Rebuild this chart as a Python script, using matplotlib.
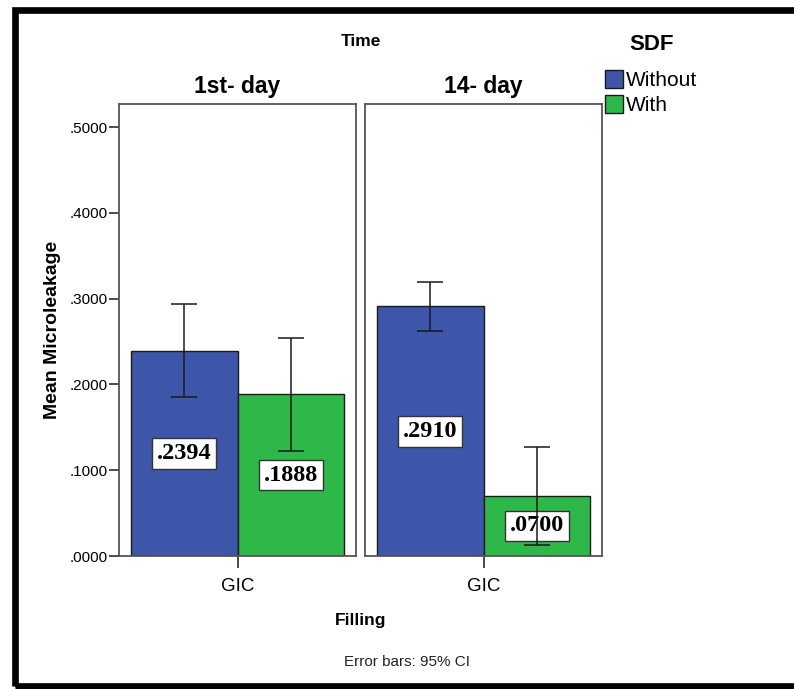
import numpy as np
import matplotlib
matplotlib.use('Agg')
import matplotlib.pyplot as plt
from matplotlib.patches import Rectangle

plt.rcParams['font.family'] = ['Liberation Sans', 'DejaVu Sans']

# data
days = ['1st- day', '14- day']
groups = ['Without', 'With']
filling = ['GIC']
mean_without = [0.2394, 0.2910]
mean_with = [0.1888, 0.0700]
ci_without_low = [0.185, 0.262]
ci_without_high = [0.294, 0.319]
ci_with_low = [0.122, 0.013]
ci_with_high = [0.254, 0.127]
value_labels_without = ['.2394', '.2910']
value_labels_with = ['.1888', '.0700']
yticks = [0, 0.1, 0.2, 0.3, 0.4, 0.5]
ytick_labels = ['.0000', '.1000', '.2000', '.3000', '.4000', '.5000']

blue = '#3d56aa'
green = '#2fb84a'
frame = '#555555'

W, H = 794, 689
fig = plt.figure(figsize=(W / 100, H / 100), dpi=100)

def fx(px):
    return px / W

def fy(py):
    return 1 - py / H

bottom = fy(556)
height = fy(104) - bottom
lefts = [119, 365]
width = 0.45

axes = []
for i, day in enumerate(days):
    ax = fig.add_axes([fx(lefts[i]), bottom, fx(237), height])
    axes.append(ax)
    means = [mean_without[i], mean_with[i]]
    lows = [ci_without_low[i], ci_with_low[i]]
    highs = [ci_without_high[i], ci_with_high[i]]
    labels = [value_labels_without[i], value_labels_with[i]]
    colors = [blue, green]
    offsets = [-width / 2, width / 2]
    for j in range(2):
        ax.bar(offsets[j], means[j], width=width, color=colors[j],
               edgecolor='#1a1a1a', linewidth=1.0, zorder=2, label=groups[j])
        ax.errorbar(offsets[j], means[j],
                    yerr=[[means[j] - lows[j]], [highs[j] - means[j]]],
                    fmt='none', ecolor='#1a1a1a', elinewidth=1.1,
                    capsize=9.4, capthick=1.1, zorder=6)
        ax.text(offsets[j], means[j] / 2, labels[j], ha='center', va='center',
                family=['Liberation Serif', 'DejaVu Serif'], fontweight='bold',
                fontsize=17.5, zorder=5,
                bbox=dict(boxstyle='square,pad=0.2', fc='white',
                          ec='#333333', lw=1.0))
    ax.set_xlim(-0.5, 0.5)
    ax.set_ylim(0, 0.527)
    ax.set_xticks([0])
    ax.set_xticklabels(filling, fontsize=13.5)
    ax.tick_params(axis='x', length=8.5, width=1.1, color='#1a1a1a', pad=7)
    for s in ax.spines.values():
        s.set_color(frame)
        s.set_linewidth(1.3)
    ax.set_title(day, fontsize=16.5, fontweight='bold', pad=8)
    if i == 0:
        ax.set_yticks(yticks)
        ax.set_yticklabels(ytick_labels, fontsize=11)
        ax.tick_params(axis='y', length=7, width=1.1, color='#1a1a1a', pad=1)
        ax.set_ylabel('Mean Microleakage', fontsize=14, fontweight='bold',
                      labelpad=6)
    else:
        ax.set_yticks([])

fig.text(fx(361), fy(41), 'Time', ha='center', va='center', fontsize=12.5,
         fontweight='bold')
fig.text(fx(361), fy(620), 'Filling', ha='center', va='center', fontsize=12.5,
         fontweight='bold')
fig.text(fx(407), fy(662), 'Error bars: 95% CI', ha='center', va='center',
         fontsize=11, color='#222222')

# legend: title as separate text so the gap matches
fig.text(fx(652), fy(45), 'SDF', ha='center', va='center', fontsize=16,
         fontweight='bold')
handles, labs = axes[0].get_legend_handles_labels()
leg = fig.legend(handles, labs, loc='upper left',
                 bbox_to_anchor=(fx(605), fy(70)), frameon=False,
                 fontsize=15, handlelength=0.87, handleheight=0.92,
                 handletextpad=0.12, labelspacing=0.26,
                 borderpad=0, borderaxespad=0)

# outer frame of the picture (no right side)
fig.add_artist(Rectangle((fx(15), fy(686)), 1.1, fy(9.5) - fy(686),
                         transform=fig.transFigure, fill=False,
                         edgecolor='black', linewidth=4.8, clip_on=False))

fig.savefig('out.png', dpi=100)
